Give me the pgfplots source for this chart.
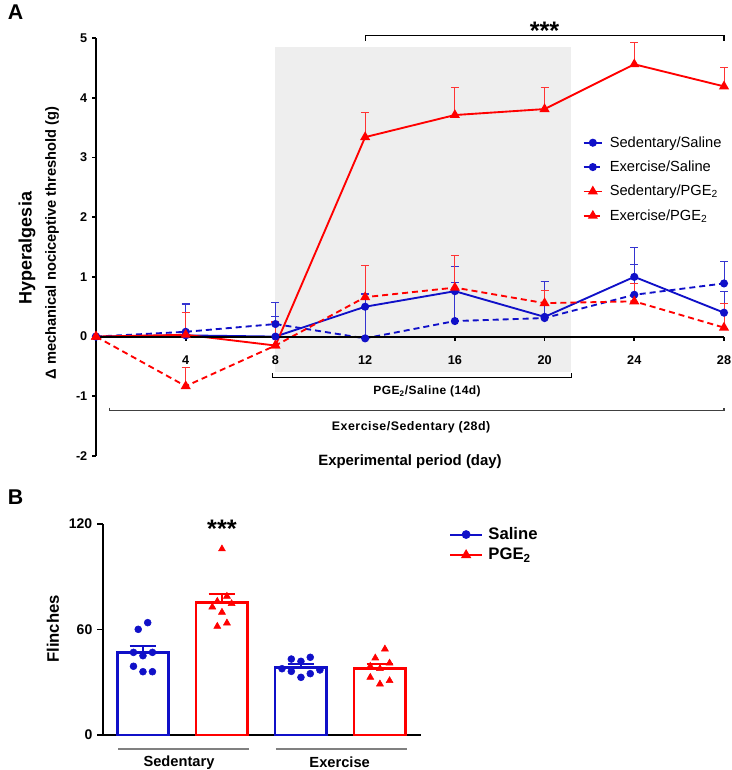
\documentclass[border=0pt]{standalone}
\usepackage{fontspec}
\setmainfont{Liberation Sans}
\usepackage{pgfplots}
\pgfplotsset{compat=1.18}
\definecolor{mblue}{RGB}{16,16,200}
\definecolor{mred}{RGB}{255,0,0}
\definecolor{shadegray}{RGB}{238,238,238}
\newcommand{\px}{0.75pt}
\begin{document}
\begin{tikzpicture}
\path[use as bounding box] (0,0) rectangle (731*\px,-770*\px);
% ---------------- Panel A ----------------
\begin{axis}[
  at={(72pt,-342pt)}, anchor=south west, scale only axis,
  width=471pt, height=313.5pt,
  xmin=0, xmax=28, ymin=-2, ymax=5,
  axis x line*=middle, axis y line*=left,
  axis line style={line width=1.4pt},
  xtick={4,8,...,28}, ytick={-2,-1,...,5},
  tick align=outside, major tick length=3pt,
  tick style={black, line width=1.2pt},
  /pgf/number format/assume math mode=true,
  ticklabel style={font=\bfseries\fontsize{9.5}{11}\selectfont},
  xticklabel style={yshift=-8pt},
  clip=false, axis on top,
  legend style={at={(0.768,0.778)}, anchor=north west, draw=none, fill=none,
    font=\fontsize{11}{13}\selectfont, row sep=4.8pt, column sep=3pt, legend cell align=left},
  legend image code/.code={\draw[mark repeat=2,mark phase=2] plot coordinates {(0pt,0pt) (7pt,0pt) (14pt,0pt)};},
]
\fill[shadegray] (axis cs:8,-0.6) rectangle (axis cs:21.2,4.85);
% Sedentary/Saline
\addplot[mblue, line width=1.4pt, mark=*, mark size=2.3pt,
  error bars/.cd, y dir=plus, y explicit,
  error bar style={line width=0.7pt, mblue!85},
  error mark options={rotate=90, mark size=3pt, line width=0.7pt, mblue!85}]
  coordinates {(0,0)+-(0,0) (4,0.02)+-(0,0.52) (8,0)+-(0,0.33) (12,0.5)+-(0,0.2)
  (16,0.76)+-(0,0.42) (20,0.33)+-(0,0.6) (24,1.0)+-(0,0.49) (28,0.4)+-(0,0.35)};
\addlegendentry{Sedentary/Saline}
% Exercise/Saline
\addplot[mblue, line width=1.4pt, dash pattern=on 4.5pt off 3pt, mark=*, mark size=2.3pt, mark options={solid},
  error bars/.cd, y dir=plus, y explicit,
  error bar style={line width=0.7pt, solid, mblue!85},
  error mark options={rotate=90, mark size=3pt, line width=0.7pt, solid, mblue!85}]
  coordinates {(0,0)+-(0,0) (4,0.08)+-(0,0.47) (8,0.21)+-(0,0.36) (12,-0.03)+-(0,0.75)
  (16,0.26)+-(0,0.64) (20,0.31)+-(0,0.62) (24,0.7)+-(0,0.5) (28,0.89)+-(0,0.37)};
\addlegendentry{Exercise/Saline}
% Sedentary/PGE2
\addplot[mred, line width=1.4pt, mark=triangle*, mark size=3pt,
  error bars/.cd, y dir=plus, y explicit,
  error bar style={line width=0.7pt, mred!80},
  error mark options={rotate=90, mark size=3pt, line width=0.7pt, mred!80}]
  coordinates {(0,0)+-(0,0) (4,0.03)+-(0,0.38) (8,-0.15)+-(0,0.4) (12,3.34)+-(0,0.42)
  (16,3.71)+-(0,0.46) (20,3.81)+-(0,0.37) (24,4.56)+-(0,0.37) (28,4.19)+-(0,0.31)};
\addlegendentry{Sedentary/PGE\textsubscript{2}}
% Exercise/PGE2
\addplot[mred, line width=1.4pt, dash pattern=on 4.5pt off 3pt, mark=triangle*, mark size=3pt, mark options={solid},
  error bars/.cd, y dir=plus, y explicit,
  error bar style={line width=0.7pt, solid, mred!80},
  error mark options={rotate=90, mark size=3pt, line width=0.7pt, solid, mred!80}]
  coordinates {(0,0)+-(0,0) (4,-0.83)+-(0,0.32) (8,-0.15)+-(0,0.38) (12,0.66)+-(0,0.53)
  (16,0.82)+-(0,0.53) (20,0.56)+-(0,0.22) (24,0.59)+-(0,0.3) (28,0.15)+-(0,0.4)};
\addlegendentry{Exercise/PGE\textsubscript{2}}
% brackets and annotations
\draw[line width=0.8pt] (axis cs:12,4.95) -- (axis cs:12,5.04) -- (axis cs:28,5.04) -- (axis cs:28,4.95);
\node[font=\bfseries\fontsize{19}{21}\selectfont] at (axis cs:20,5.12) {***};
\draw[line width=0.8pt] (axis cs:7.85,-0.61) -- (axis cs:7.85,-0.68) -- (axis cs:21.18,-0.68) -- (axis cs:21.18,-0.61);
\node[font=\bfseries\fontsize{9}{10}\selectfont\addfontfeature{LetterSpace=4}] at (axis cs:14.76,-0.92) {PGE\textsubscript{2}/Saline (14d)};
\draw[line width=0.8pt, black!75] (axis cs:0.62,-1.19) -- (axis cs:0.62,-1.24) -- (axis cs:28,-1.24) -- (axis cs:28,-1.19);
\node[font=\bfseries\fontsize{9.3}{10}\selectfont\addfontfeature{LetterSpace=4}] at (axis cs:14.05,-1.52) {Exercise/Sedentary (28d)};
\node[font=\bfseries\fontsize{11.2}{13}\selectfont] at (axis cs:14,-2.09) {Experimental period (day)};
\end{axis}
\node[rotate=90, font=\bfseries\fontsize{13.5}{15}\selectfont] at (27*\px,-248*\px) {Hyperalgesia};
\node[rotate=90, font=\bfseries\fontsize{11}{13}\selectfont] at (52*\px,-243*\px) {Δ mechanical nociceptive threshold (g)};
\node[font=\bfseries\fontsize{16}{18}\selectfont] at (15.5*\px,-12.5*\px) {A};
\node[font=\bfseries\fontsize{16}{18}\selectfont] at (15.5*\px,-497*\px) {B};
% ---------------- Panel B ----------------
\begin{axis}[
  at={(77.25pt,-551.25pt)}, anchor=south west, scale only axis,
  width=238.5pt, height=158.25pt,
  xmin=0.494, xmax=4.52, ymin=0, ymax=120,
  axis x line*=bottom, axis y line*=left,
  axis line style={line width=1.4pt},
  xtick=\empty, ytick={0,60,120},
  tick align=outside, major tick length=4.5pt,
  tick style={black, line width=1.2pt},
  /pgf/number format/assume math mode=true,
  ticklabel style={font=\bfseries\fontsize{10.5}{12}\selectfont},
  clip=false,
  legend style={at={(1.075,1.01)}, anchor=north west, draw=none, fill=none,
    font=\bfseries\fontsize{12.5}{14}\selectfont, row sep=1pt, column sep=2pt, legend cell align=left},
  legend image code/.code={\draw[mark repeat=2,mark phase=2] plot coordinates {(0pt,0pt) (12pt,0pt) (24pt,0pt)};},
]
\addplot[ybar, bar width=38.6pt, draw=mblue, fill=white, line width=1.9pt, forget plot,
  error bars/.cd, y dir=plus, y explicit,
  error bar style={line width=1.9pt, mblue},
  error mark options={rotate=90, mark size=10pt, line width=1.9pt, mblue}]
  coordinates {(1,46.8)+-(0,3.7) (3,38.5)+-(0,1.9)};
\addplot[ybar, bar width=38.6pt, draw=mred, fill=white, line width=1.9pt, forget plot,
  error bars/.cd, y dir=plus, y explicit,
  error bar style={line width=1.9pt, mred},
  error mark options={rotate=90, mark size=10pt, line width=1.9pt, mred}]
  coordinates {(2,75.4)+-(0,4.7) (4,37.9)+-(0,2.6)};
\addplot[only marks, mark=*, mark size=2.6pt, mblue, forget plot]
  coordinates {(0.94,60.1) (1.06,63.9) (0.88,47.0) (1.0,45.1) (1.12,47.0) (0.88,39.1) (1.0,36.0) (1.12,36.0)
  (2.878,43.2) (3.118,44.2) (3.0,41.9) (2.76,37.7) (2.878,36.2) (3.0,32.8) (3.118,34.9) (3.24,37.0)};
\addplot[only marks, mark=triangle*, mark size=3pt, mred, forget plot]
  coordinates {(2.0,105.8) (2.063,78.9) (1.941,76.0) (2.122,74.7) (1.878,72.8) (2.0,69.8) (1.941,61.8) (2.063,63.7)
  (4.063,48.9) (3.941,43.8) (4.122,40.9) (3.878,39.1) (4.0,37.7) (3.878,32.8) (4.122,30.9) (4.0,29.0)};
\addlegendimage{mblue, line width=1.5pt, mark=*, mark size=2.5pt}
\addlegendentry{Saline}
\addlegendimage{mred, line width=1.5pt, mark=triangle*, mark size=3pt}
\addlegendentry{PGE\textsubscript{2}}
\node[font=\bfseries\fontsize{19}{21}\selectfont] at (axis cs:2,117.2) {***};
\draw[gray, line width=1pt] (axis cs:0.684,-8) -- (axis cs:2.342,-8);
\draw[gray, line width=1pt] (axis cs:2.684,-8) -- (axis cs:4.342,-8);
\node[font=\bfseries\fontsize{11}{13}\selectfont] at (axis cs:1.456,-15.6) {Sedentary};
\node[font=\bfseries\fontsize{11}{13}\selectfont] at (axis cs:3.49,-15.6) {Exercise};
\end{axis}
\node[rotate=90, font=\bfseries\fontsize{12.5}{14}\selectfont] at (53*\px,-629*\px) {Flinches};
\end{tikzpicture}
\end{document}
